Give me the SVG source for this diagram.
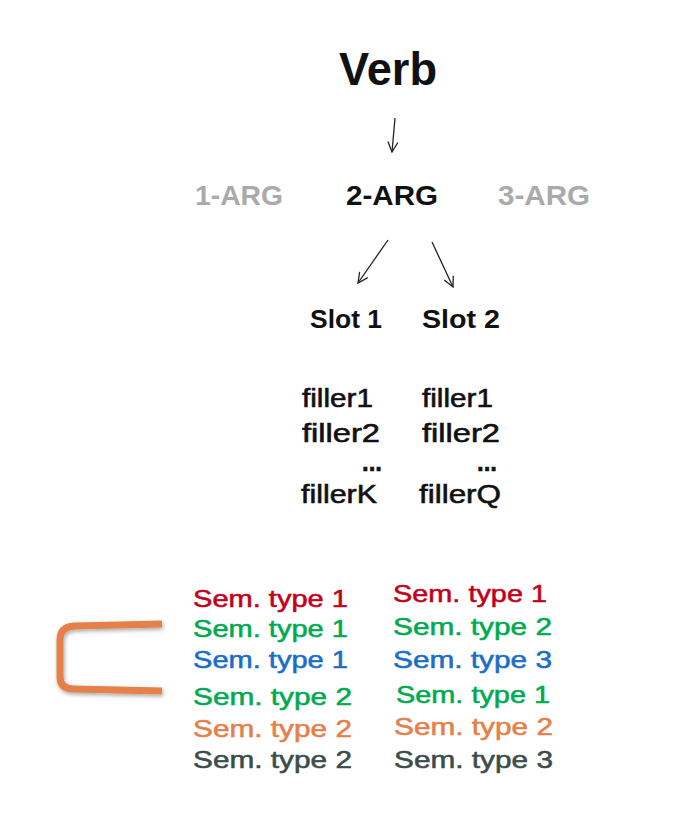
<svg xmlns="http://www.w3.org/2000/svg" width="678" height="829" viewBox="0 0 678 829">
<defs>
<style>
.b{font-family:"Liberation Sans",Arial,sans-serif;font-weight:bold;}
.r{font-family:"Liberation Sans",Arial,sans-serif;}
.fill{font-size:26px;fill:#111;stroke:#111;stroke-width:0.6;}
.sem{font-size:24px;stroke-width:0.55;}
.red{fill:#c4001a;stroke:#c4001a;}
.grn{fill:#00aa50;stroke:#00aa50;}
.blu{fill:#1a6ec8;stroke:#1a6ec8;}
.org{fill:#e5804a;stroke:#e5804a;}
.dk{fill:#3b4d4a;stroke:#3b4d4a;}
.gray{fill:#aaaaaa;}
.conn{stroke:#222;stroke-width:1.3;fill:none;marker-end:url(#ah);}
</style>
<marker id="ah" viewBox="0 0 12 12" refX="11" refY="6" markerWidth="12" markerHeight="12" markerUnits="userSpaceOnUse" orient="auto">
<path d="M1,1 L11,6 L1,11" fill="none" stroke="#222" stroke-width="1.3"/>
</marker>
<filter id="sh" x="-20%" y="-20%" width="140%" height="140%">
<feGaussianBlur in="SourceAlpha" stdDeviation="2"/>
<feOffset dx="1" dy="2" result="o"/>
<feComponentTransfer><feFuncA type="linear" slope="0.35"/></feComponentTransfer>
<feMerge><feMergeNode/><feMergeNode in="SourceGraphic"/></feMerge>
</filter>
</defs>
<rect width="678" height="829" fill="#ffffff"/>
<g id="verb"><text class="b" x="339" y="85" font-size="46" textLength="98" lengthAdjust="spacingAndGlyphs" fill="#111">Verb</text></g>
<g id="arg1"><text class="b gray" x="195" y="205" font-size="28" textLength="88" lengthAdjust="spacingAndGlyphs">1-ARG</text></g>
<g id="arg2"><text class="b" x="346" y="205" font-size="28" textLength="92" lengthAdjust="spacingAndGlyphs" fill="#111">2-ARG</text></g>
<g id="arg3"><text class="b gray" x="498" y="205" font-size="28" textLength="92" lengthAdjust="spacingAndGlyphs">3-ARG</text></g>
<g id="slot1"><text class="b" x="310" y="328" font-size="26" textLength="72" lengthAdjust="spacingAndGlyphs" fill="#111">Slot 1</text></g>
<g id="slot2"><text class="b" x="422" y="328" font-size="26" textLength="78" lengthAdjust="spacingAndGlyphs" fill="#111">Slot 2</text></g>
<g id="fillers1">
<text class="r fill" x="302" y="407" textLength="71" lengthAdjust="spacingAndGlyphs">filler1</text>
<text class="r fill" x="302" y="442" textLength="78" lengthAdjust="spacingAndGlyphs">filler2</text>
<text class="b fill" x="362" y="471" textLength="20" lengthAdjust="spacingAndGlyphs">...</text>
<text class="r fill" x="301" y="503" textLength="76" lengthAdjust="spacingAndGlyphs">fillerK</text>
</g>
<g id="fillers2">
<text class="r fill" x="422" y="407" textLength="71" lengthAdjust="spacingAndGlyphs">filler1</text>
<text class="r fill" x="422" y="442" textLength="78" lengthAdjust="spacingAndGlyphs">filler2</text>
<text class="b fill" x="477" y="471" textLength="20" lengthAdjust="spacingAndGlyphs">...</text>
<text class="r fill" x="419" y="503" textLength="82" lengthAdjust="spacingAndGlyphs">fillerQ</text>
</g>
<g id="sem1">
<text class="r sem red" x="193" y="607" textLength="155" lengthAdjust="spacingAndGlyphs">Sem. type 1</text>
<text class="r sem grn" x="193" y="637" textLength="155" lengthAdjust="spacingAndGlyphs">Sem. type 1</text>
<text class="r sem blu" x="193" y="668" textLength="155" lengthAdjust="spacingAndGlyphs">Sem. type 1</text>
<text class="r sem grn" x="193" y="705" textLength="159" lengthAdjust="spacingAndGlyphs">Sem. type 2</text>
<text class="r sem org" x="193" y="737" textLength="159" lengthAdjust="spacingAndGlyphs">Sem. type 2</text>
<text class="r sem dk" x="193" y="768" textLength="159" lengthAdjust="spacingAndGlyphs">Sem. type 2</text>
</g>
<g id="sem2">
<text class="r sem red" x="393" y="602" textLength="154" lengthAdjust="spacingAndGlyphs">Sem. type 1</text>
<text class="r sem grn" x="393" y="635" textLength="159" lengthAdjust="spacingAndGlyphs">Sem. type 2</text>
<text class="r sem blu" x="393" y="668" textLength="159" lengthAdjust="spacingAndGlyphs">Sem. type 3</text>
<text class="r sem grn" x="396" y="703" textLength="154" lengthAdjust="spacingAndGlyphs">Sem. type 1</text>
<text class="r sem org" x="394" y="735" textLength="159" lengthAdjust="spacingAndGlyphs">Sem. type 2</text>
<text class="r sem dk" x="394" y="768" textLength="159" lengthAdjust="spacingAndGlyphs">Sem. type 3</text>
</g>
<g id="bracket">
<path d="M162,624 L74,626 Q60,627 60,640 L60,677 Q60,689 74,689 L162,691" fill="none" stroke="#e5804a" stroke-width="7" stroke-linejoin="round" filter="url(#sh)"/>
</g>
<g id="connectors">
<path class="conn" d="M395,118 L392,152"/>
<path class="conn" d="M388,240 L358,283"/>
<path class="conn" d="M432,242 L453,287"/>
</g>
</svg>
